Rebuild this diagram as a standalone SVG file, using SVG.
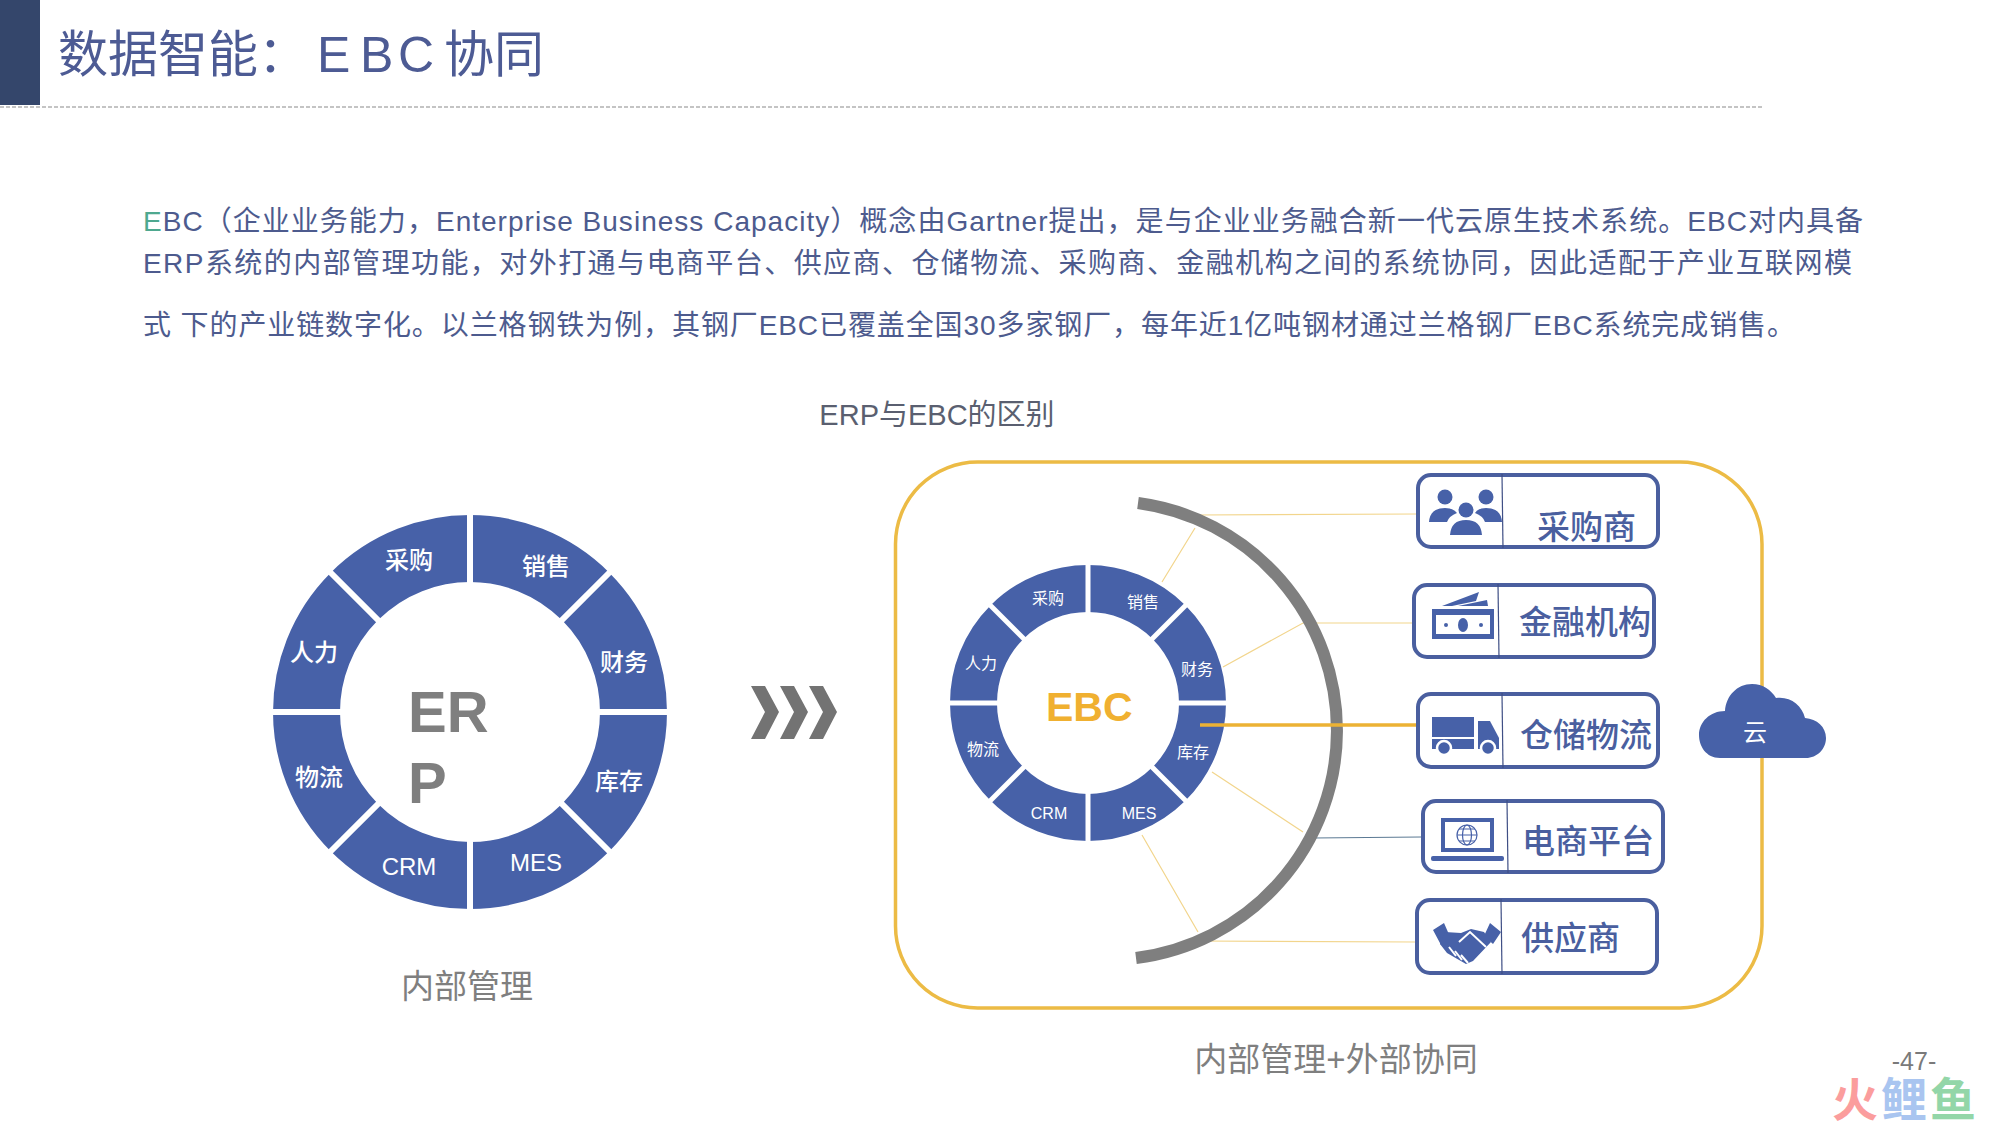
<svg xmlns="http://www.w3.org/2000/svg" width="2000" height="1125" viewBox="0 0 2000 1125">
<style>
text{font-family:"Liberation Sans","Noto Sans CJK SC",sans-serif}
.body{font-size:28px;fill:#4d5b8e}
.cap{font-size:33px;fill:#7f7f7f;text-anchor:middle}
.big{font-size:29px;fill:#5a5f70;text-anchor:middle}
.ringa{font-size:24px;fill:#fff;text-anchor:middle;font-weight:500}
.ringb{font-size:16px;fill:#fff;text-anchor:middle}
.card{fill:#fff;stroke:#4a5f9f;stroke-width:4}
.div{stroke:#3f4f85;stroke-width:1.2}
.ico{fill:#4761a8}
.lab{font-size:33px;fill:#4a5f9f;font-weight:500}
.thin{stroke:#f2d58c;stroke-width:1.2;fill:none}
.spoke{stroke:#fff}
</style>
<rect x="0" y="0" width="1999" height="1125" fill="#fff"/>
<g id="header">
<rect x="0" y="0" width="40" height="105" fill="#34466b"/>
<line x1="0" y1="107" x2="1763" y2="107" stroke="#8a8a8a" stroke-width="1.2" stroke-dasharray="4 2"/>
<text x="58" y="72" font-size="50" fill="#4d5b94">数据智能：<tspan x="317">E</tspan><tspan x="360">B</tspan><tspan x="398">C</tspan><tspan x="444">协同</tspan></text>
</g>
<g id="intro">
<text class="body" x="143" y="231" textLength="1720" lengthAdjust="spacing"><tspan fill="#4ea88f">E</tspan>BC（企业业务能力，Enterprise Business Capacity）概念由Gartner提出，是与企业业务融合新一代云原生技术系统。EBC对内具备</text>
<text class="body" x="143" y="273" textLength="1709" lengthAdjust="spacing">ERP系统的内部管理功能，对外打通与电商平台、供应商、仓储物流、采购商、金融机构之间的系统协同，因此适配于产业互联网模</text>
<text class="body" x="143" y="335" textLength="1652" lengthAdjust="spacing">式 下的产业链数字化。以兰格钢铁为例，其钢厂EBC已覆盖全国30多家钢厂，每年近1亿吨钢材通过兰格钢厂EBC系统完成销售。</text>
<text class="big" x="937" y="425">ERP与EBC的区别</text>
</g>
<g id="erp-ring">
<circle cx="470" cy="712" r="163.5" fill="none" stroke="#4761a8" stroke-width="67"/>
<g class="spoke" stroke-width="6">
<line x1="470" y1="510" x2="470" y2="914"/><line x1="268" y1="712" x2="672" y2="712"/>
<line x1="327" y1="569" x2="613" y2="855"/><line x1="613" y1="569" x2="327" y2="855"/>
</g>
<text class="ringa" x="409" y="569">采购</text><text class="ringa" x="546" y="575">销售</text>
<text class="ringa" x="624" y="671">财务</text><text class="ringa" x="619" y="790">库存</text>
<text class="ringa" x="536" y="871">MES</text><text class="ringa" x="409" y="875">CRM</text>
<text class="ringa" x="319" y="786">物流</text><text class="ringa" x="314" y="661">人力</text>
<text x="408" y="732" font-size="58" font-weight="700" fill="#7f7f7f">ER</text>
<text x="408" y="803" font-size="58" font-weight="700" fill="#7f7f7f">P</text>
<text class="cap" x="467" y="998">内部管理</text>
</g>
<g id="chevrons" fill="#737373">
<polygon points="751,686 765,686 779,712 765,739 751,739 765,712"/>
<polygon points="780,686 794,686 808,712 794,739 780,739 794,712"/>
<polygon points="809,686 823,686 837,712 823,739 809,739 823,712"/>
</g>
<rect id="frame" x="895.5" y="462" width="866.5" height="546" rx="82" fill="none" stroke="#ecbb45" stroke-width="3.5"/>
<g id="connectors">
<path class="thin" d="M1197 515L1417 514M1162 582L1195 528M1223 667L1303 623L1413 623M1212 772L1303 832M1142 835L1198 932M1197 941L1415 942"/>
<path d="M1313 838L1421 837" stroke="#5c7a94" stroke-width="1.2" fill="none"/>
</g>
<g id="ebc-ring">
<circle cx="1088" cy="703" r="114.5" fill="none" stroke="#4761a8" stroke-width="47"/>
<g class="spoke" stroke-width="5">
<line x1="1088" y1="560" x2="1088" y2="846"/><line x1="945" y1="703" x2="1231" y2="703"/>
<line x1="987" y1="602" x2="1189" y2="804"/><line x1="1189" y1="602" x2="987" y2="804"/>
</g>
<text class="ringb" x="1048" y="604">采购</text><text class="ringb" x="1143" y="608">销售</text>
<text class="ringb" x="1197" y="675">财务</text><text class="ringb" x="1193" y="758">库存</text>
<text class="ringb" x="1139" y="819">MES</text><text class="ringb" x="1049" y="819">CRM</text>
<text class="ringb" x="983" y="755">物流</text><text class="ringb" x="981" y="669">人力</text>
<text x="1046" y="721" font-size="41" font-weight="700" fill="#f0b030">EBC</text>
</g>
<path id="gray-arc" d="M1138 503A229.4 229.4 0 0 1 1136 958" fill="none" stroke="#7f7f7f" stroke-width="12"/>
<path id="thick-link" d="M1200 725H1417" stroke="#ecb234" stroke-width="3.5" fill="none"/>
<g id="n-purchaser">
<rect class="card" x="1418" y="475" width="240" height="72" rx="13"/>
<line class="div" x1="1502" y1="474" x2="1503" y2="548"/>
<circle class="ico" cx="1445" cy="497" r="7.5"/><circle class="ico" cx="1486" cy="497" r="7.5"/><circle class="ico" cx="1466" cy="510" r="7.5"/>
<path class="ico" d="M1429 522Q1430 508 1445 508Q1453 508 1457 513Q1449 516 1447 522ZM1502 522Q1501 508 1486 508Q1478 508 1475 513Q1483 516 1485 522ZM1450 535Q1451 520 1466 520Q1481 520 1482 535Z"/>
<text class="lab" x="1537" y="539">采购商</text>
</g>
<g id="n-finance">
<rect class="card" x="1414" y="585" width="240" height="72" rx="13"/>
<line class="div" x1="1498" y1="584" x2="1499" y2="658"/>
<path class="ico" d="M1442 606L1479 592L1476 601L1452 606ZM1458 606L1487 600L1488 606Z"/>
<path class="ico" fill-rule="evenodd" d="M1432 609H1494V639H1432ZM1436 615V634H1490V615Z"/>
<ellipse class="ico" cx="1463" cy="625" rx="5" ry="7"/><circle class="ico" cx="1446" cy="625" r="2"/><circle class="ico" cx="1481" cy="625" r="2"/>
<text class="lab" x="1519" y="634">金融机构</text>
</g>
<g id="n-logistics">
<rect class="card" x="1418" y="694" width="240" height="73" rx="13"/>
<line class="div" x1="1502" y1="693" x2="1503" y2="768"/>
<rect class="ico" x="1432" y="717" width="42" height="20"/><rect class="ico" x="1432" y="739" width="42" height="10"/>
<path class="ico" d="M1478 721H1490L1499 738V749H1478Z"/>
<circle class="ico" cx="1444" cy="748" r="7" stroke="#fff" stroke-width="2.5"/><circle class="ico" cx="1488" cy="748" r="7" stroke="#fff" stroke-width="2.5"/>
<text class="lab" x="1520" y="747">仓储物流</text>
</g>
<g id="n-ecommerce">
<rect class="card" x="1423" y="801" width="240" height="71" rx="13"/>
<line class="div" x1="1507" y1="800" x2="1508" y2="873"/>
<path class="ico" fill-rule="evenodd" d="M1441 818H1494V852H1441ZM1445 822V848H1490V822Z"/>
<rect class="ico" x="1431" y="856" width="73" height="5" rx="2"/>
<g fill="none" stroke="#4761a8" stroke-width="1.2"><circle cx="1467" cy="835" r="10"/><ellipse cx="1467" cy="835" rx="4.5" ry="10"/><path d="M1457 835H1477M1459 829H1475M1459 841H1475"/></g>
<text class="lab" x="1522" y="853">电商平台</text>
</g>
<g id="n-supplier">
<rect class="card" x="1417" y="900" width="240" height="73" rx="13"/>
<line class="div" x1="1501" y1="899" x2="1502" y2="974"/>
<path class="ico" d="M1433 930L1444 923L1451 939L1441 945ZM1490 923L1501 932L1493 944L1484 936Z"/>
<path class="ico" d="M1445 932L1461 933L1471 929L1484 932L1491 942L1473 961L1466 964L1447 953L1440 944Z"/>
<path d="M1459 942L1470 932L1486 947M1449 947L1456 956M1455 951L1462 960M1461 955L1468 963" fill="none" stroke="#fff" stroke-width="2"/>
<text class="lab" x="1521" y="950">供应商</text>
</g>
<g id="n-cloud">
<path class="ico" d="M1720 758C1706 758 1699 746 1699 735C1699 722 1710 711 1725 711C1726 696 1737 684 1752 684C1763 684 1771 690 1776 698C1790 696 1802 705 1805 718C1817 719 1826 727 1826 738C1826 749 1817 758 1806 758Z"/>
<text x="1755" y="741" font-size="24" fill="#fff" text-anchor="middle">云</text>
</g>
<text class="cap" x="1336" y="1071">内部管理+外部协同</text>
<text x="1914" y="1070" font-size="25" fill="#7a7a7a" text-anchor="middle">-47-</text>
<g id="watermark" font-size="46" font-weight="700"><text x="1832" y="1116" fill="#fb9d9d">火</text><text x="1881" y="1116" fill="#a9c5f0">鲤</text><text x="1930" y="1116" fill="#93d6a8">鱼</text></g>
</svg>
